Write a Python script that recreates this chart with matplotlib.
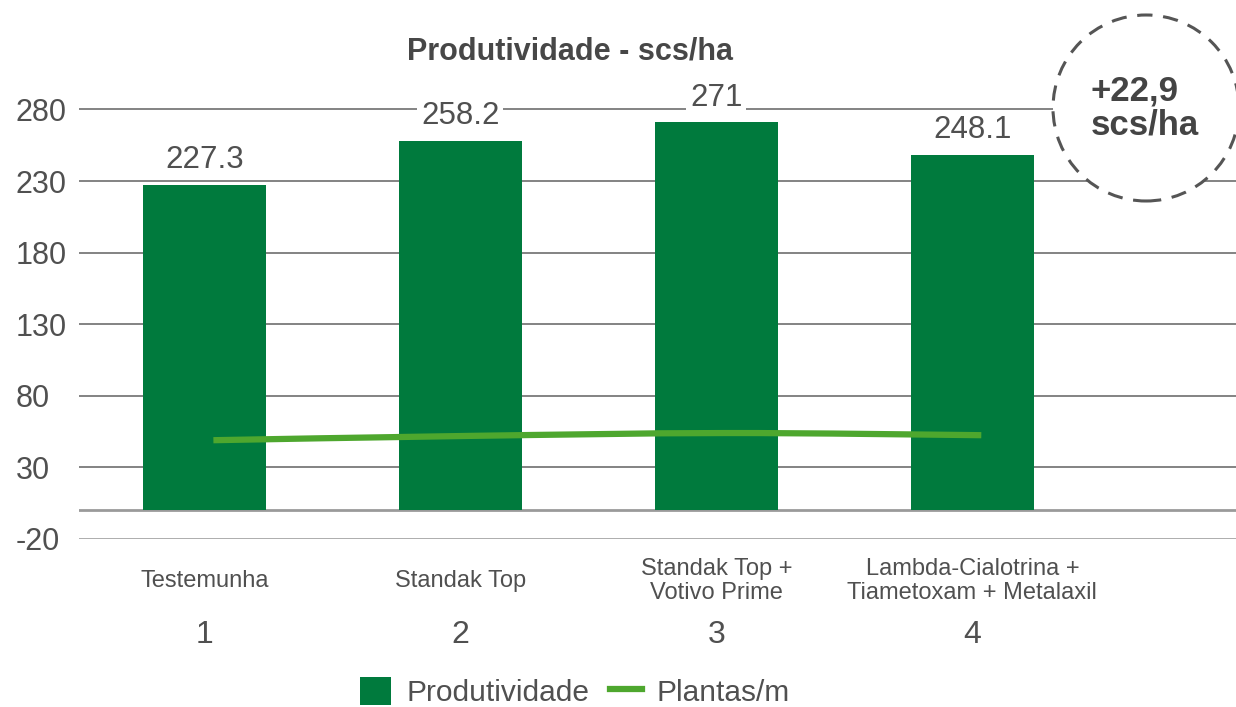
import matplotlib
matplotlib.use("Agg")
import matplotlib.pyplot as plt
import numpy as np
from matplotlib.patches import Patch, Ellipse, PathPatch
from matplotlib.lines import Line2D
from matplotlib.path import Path

plt.rcParams['font.family'] = ['Liberation Sans', 'DejaVu Sans']

categories = ["Testemunha", "Standak Top", "Standak Top +\nVotivo Prime",
              "Lambda-Cialotrina +\nTiametoxam + Metalaxil"]
numbers = ["1", "2", "3", "4"]
produtividade = [227.3, 258.2, 271, 248.1]
bar_labels = ["227.3", "258.2", "271", "248.1"]
plantas = [49, 52, 54, 52.5]
yticks = [-20, 30, 80, 130, 180, 230, 280]

BAR = "#007a3d"
LINE = "#4ea72e"
TXT = "#505050"

W, H = 1236, 707
fig = plt.figure(figsize=(W/100, H/100), dpi=100)
ax = fig.add_axes([79/W, 1-539/H, 1-79/W, (539-80.8)/H])

x = np.arange(len(categories))
ax.bar(x, produtividade, width=0.48, color=BAR, zorder=3)
for xi, v, lab in zip(x, produtividade, bar_labels):
    ax.annotate(lab, (xi, v), xytext=(0, 7), textcoords='offset points',
                ha='center', va='bottom', fontsize=22.5, color=TXT, zorder=5,
                bbox=dict(boxstyle='square,pad=0.12', fc='white', ec='none'))

# smoothed line (Catmull-Rom -> cubic Bezier)
xl = x + 0.035
pts = np.column_stack([xl, plantas])
verts = [pts[0]]
codes = [Path.MOVETO]
for i in range(len(pts)-1):
    p0 = pts[i-1] if i > 0 else pts[i]
    p1, p2 = pts[i], pts[i+1]
    p3 = pts[i+2] if i+2 < len(pts) else pts[i+1]
    c1 = p1 + (p2 - p0)/6
    c2 = p2 - (p3 - p1)/6
    verts += [c1, c2, p2]
    codes += [Path.CURVE4]*3
ax.add_patch(PathPatch(Path(verts, codes), fill=False, edgecolor=LINE,
                       lw=4.5, capstyle='butt', zorder=4))

ax.set_xlim(-0.49, 4.03)
ax.set_ylim(-20, 300)
ax.set_yticks(yticks)
ax.set_yticklabels([str(t) for t in yticks])
ax.tick_params(axis='y', length=0, pad=45.4, labelsize=22, labelcolor=TXT)
for t in ax.get_yticklabels():
    t.set_horizontalalignment('left')
ax.set_xticks([])
for s in ax.spines.values():
    s.set_visible(False)
for t in yticks:
    if t == -20:
        ax.axhline(t, color='#a6a6a6', lw=2, zorder=1)
    else:
        ax.axhline(t, color='#6e6e6e', lw=1.2, zorder=1)
ax.axhline(0, color='#9a9a9a', lw=2, zorder=2)

trans = ax.get_xaxis_transform()
for xi, c, n in zip(x, categories, numbers):
    ax.text(xi, -0.0917, c, transform=trans, ha='center', va='center',
            fontsize=17, color=TXT, linespacing=1.1)
    ax.text(xi, -0.209, n, transform=trans, ha='center', va='center',
            fontsize=23, color=TXT)

fig.text(570/W, 1-52/H, "Produtividade - scs/ha", ha='center', va='center',
         fontsize=22, fontweight='bold', color='#474747')

# dashed circle annotation
r = 93
fig.add_artist(Ellipse((1146/W, 1-108/H), 2*r/W, 2*r/H, transform=fig.transFigure,
                       facecolor='white', edgecolor='#555555', lw=2.2,
                       linestyle=(0, (5, 3.5))))
fig.text(1145/W, 1-108/H, "+22,9\nscs/ha", ha='center', va='center',
         multialignment='left',
         fontsize=25, fontweight='bold', color='#444444', linespacing=1.05)

handles = [Patch(facecolor=BAR, edgecolor='none'),
           Line2D([0], [0], color=LINE, lw=4.5)]
fig.legend(handles, ["Produtividade", "Plantas/m"], loc='center',
           bbox_to_anchor=(575/W, 1-692/H), ncol=2, frameon=False,
           fontsize=21.5, labelcolor=TXT, handlelength=1.05, handleheight=1.1,
           columnspacing=0.7, handletextpad=0.5)

fig.savefig("out.png", dpi=100)
